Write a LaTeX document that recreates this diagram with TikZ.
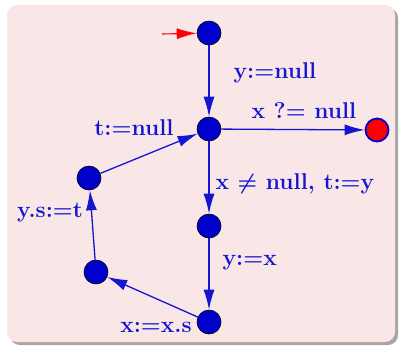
\documentclass[tikz,border=0pt]{standalone}
\usetikzlibrary{arrows.meta}
\definecolor{bgpink}{RGB}{249,230,231}
\definecolor{nblue}{RGB}{0,0,205}
\definecolor{eblue}{RGB}{20,20,210}
\tikzset{
  st/.style={circle,draw=black,fill=nblue,minimum size=12pt,inner sep=0pt,line width=0.3pt},
  fin/.style={circle,draw=nblue,fill=red,minimum size=11.5pt,inner sep=0pt,line width=0.9pt},
  tr/.style={draw=eblue,line width=0.65pt,-{Latex[length=10pt,width=5.5pt]}},
  lbl/.style={text=eblue,font=\fontsize{11.4}{13}\selectfont\bfseries\boldmath,inner sep=0.5pt}
}
\begin{document}
\begin{tikzpicture}[x=0.5pt,y=-0.5pt]
\useasboundingbox (0,0) rectangle (400,345);
\fill[gray!70,rounded corners=5pt] (10,8) rectangle (398,345);
\fill[bgpink,rounded corners=5pt] (7,5) rectangle (395,342);
\node[st] (a) at (209,33) {};
\node[st] (b) at (209,129) {};
\node[fin] (f) at (377,130) {};
\node[st] (c) at (209,226) {};
\node[st] (d) at (209,322) {};
\node[st] (e) at (96,272) {};
\node[st] (g) at (89,178) {};
\coordinate (init) at (162,34);
\draw[red,line width=0.55pt,-{Latex[length=10pt,width=5.5pt]}] (init) -- (a);
\draw[tr] (a) -- node[lbl,anchor=west,xshift=11.5pt,yshift=4pt] {y:=null} (b);
\draw[tr] (b) -- node[lbl,above,xshift=5.5pt,yshift=4.5pt] {x ?= null} (f);
\draw[tr] (b) -- node[lbl,anchor=west,xshift=2.5pt,yshift=-3.25pt] {x $\neq$ null, t:=y} (c);
\draw[tr] (c) -- node[lbl,anchor=west,xshift=6pt,yshift=5.5pt] {y:=x} (d);
\draw[tr] (d) -- (e);
\draw[tr] (e) -- (g);
\draw[tr] (g) -- (b);
\node[lbl] (l1) at (156,327) {x:=x.s};
\node[lbl] (l2) at (50,213) {y.s:=t};
\node[lbl] (l3) at (134,128) {t:=null};
\end{tikzpicture}
\end{document}
